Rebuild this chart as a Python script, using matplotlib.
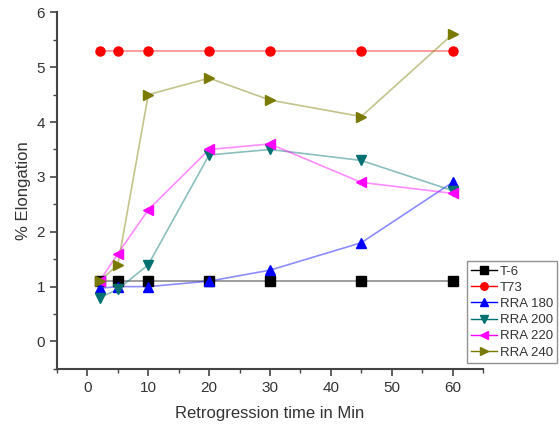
import matplotlib
matplotlib.use("Agg")
import matplotlib.pyplot as plt
from matplotlib.ticker import MultipleLocator

plt.rcParams['font.family'] = ['Liberation Sans', 'DejaVu Sans']

# retrogression time (min)
times = [2, 5, 10, 20, 30, 45, 60]

# % elongation for each temper
t6 = [1.1, 1.1, 1.1, 1.1, 1.1, 1.1, 1.1]
t73 = [5.3, 5.3, 5.3, 5.3, 5.3, 5.3, 5.3]
rra180 = [0.97, 1.0, 1.0, 1.1, 1.3, 1.8, 2.9]
rra200 = [0.8, 0.95, 1.4, 3.4, 3.5, 3.3, 2.75]
rra220 = [1.1, 1.6, 2.4, 3.5, 3.6, 2.9, 2.7]
rra240 = [1.1, 1.4, 4.5, 4.8, 4.4, 4.1, 5.6]

series = [
    ('T-6', t6, 'black', 's'),
    ('T73', t73, 'red', 'o'),
    ('RRA 180', rra180, 'blue', '^'),
    ('RRA 200', rra200, '#007070', 'v'),
    ('RRA 220', rra220, 'magenta', '<'),
    ('RRA 240', rra240, '#7a7a00', '>'),
]

fig = plt.figure(figsize=(5.59, 4.25), dpi=100)
ax = fig.add_axes([0.102, 0.132, 0.762, 0.839])

handles = []
for name, vals, col, mk in series:
    ax.plot(times, vals, color=col, alpha=0.45, lw=1.2, zorder=2)
    ax.plot(times, vals, color=col, marker=mk, ms=6.5, lw=0, zorder=3)
    h, = ax.plot([], [], color=col, marker=mk, ms=6, lw=1.0)
    h.set_label(name)
    handles.append(h)

ax.set_xlim(-5, 65)
ax.set_ylim(-0.5, 6)
ax.xaxis.set_major_locator(MultipleLocator(10))
ax.xaxis.set_minor_locator(MultipleLocator(5))
ax.yaxis.set_major_locator(MultipleLocator(1))
ax.yaxis.set_minor_locator(MultipleLocator(0.5))

for s in ['top', 'right']:
    ax.spines[s].set_visible(False)
for s in ['left', 'bottom']:
    ax.spines[s].set_color('#444444')
    ax.spines[s].set_linewidth(1.5)

ax.tick_params(which='major', direction='out', length=5, width=1.2,
               colors='#444444', labelsize=11, labelcolor='#333333')
ax.tick_params(which='minor', direction='out', length=3, width=1.0,
               colors='#444444')

ax.set_xlabel('Retrogression time in Min', fontsize=12, color='#333333', labelpad=8)
ax.set_ylabel('% Elongation', fontsize=12, color='#333333')

leg = fig.legend(handles=handles, loc='upper left',
                 bbox_to_anchor=(0.835, 0.385), fontsize=9.5, frameon=True,
                 fancybox=False, edgecolor='#777777', handlelength=2.0,
                 handletextpad=0.2, labelspacing=0.3, borderpad=0.3,
                 borderaxespad=0, markerscale=0.9)
leg.get_frame().set_linewidth(1.0)
for t in leg.get_texts():
    t.set_color('#333333')

fig.savefig('out.png', dpi=100)
